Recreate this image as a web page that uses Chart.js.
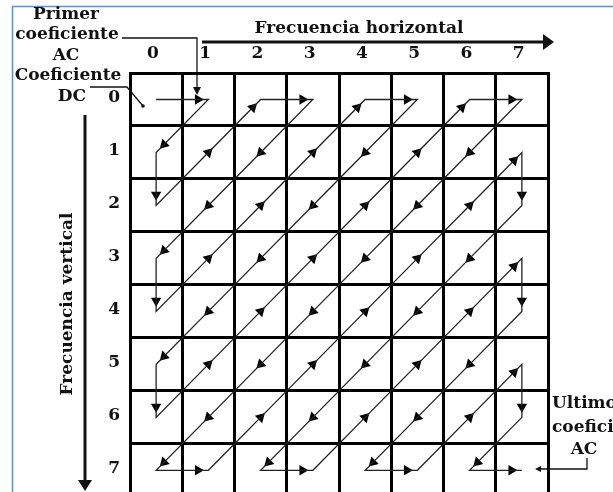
<!DOCTYPE html>
<html>
<head>
<meta charset="utf-8">
<script src="https://cdn.jsdelivr.net/npm/chart.js@4.4.1/dist/chart.umd.min.js"></script>
<style>
  html, body { margin: 0; background: #fff; overflow: hidden; height: 492px; }
  #wrap { width: 613px; height: 517px; position: relative; }
</style>
</head>
<body>
<div id="wrap"><canvas id="chart"></canvas></div>
<script>
const colLabels = ['0', '1', '2', '3', '4', '5', '6', '7'];
const rowLabels = ['0', '1', '2', '3', '4', '5', '6', '7'];
const gridLines = [0, 1, 2, 3, 4, 5, 6, 7, 8];

// zigzag scan order of the 64 coefficients (row, column)
const scanRow = [0,0,1,2,1,0,0,1,2,3,4,3,2,1,0,0,1,2,3,4,5,6,5,4,3,2,1,0,0,1,2,3,4,5,6,7,7,6,5,4,3,2,1,2,3,4,5,6,7,7,6,5,4,3,4,5,6,7,7,6,5,6,7,7];
const scanCol = [0,1,0,0,1,2,3,2,1,0,0,1,2,3,4,5,4,3,2,1,0,0,1,2,3,4,5,6,7,6,5,4,3,2,1,0,1,2,3,4,5,6,7,7,6,5,4,3,2,3,4,5,6,7,7,6,5,4,5,6,7,7,6,7];

const FONT = '"DejaVu Serif", serif';

// path through the cell centres
const pathPts = scanRow.map((r, i) => ({ x: scanCol[i] + 0.5, y: r + 0.5 }));

// one arrow head per step, pointing the way the scan moves
const headPts = [];
const headRot = [];
for (let i = 1; i < scanRow.length; i++) {
  const dx = Math.sign(scanCol[i] - scanCol[i - 1]);
  const dy = Math.sign(scanRow[i] - scanRow[i - 1]);
  let back = 0.2;
  if (i < scanRow.length - 1) {
    const nx = Math.sign(scanCol[i + 1] - scanCol[i]);
    const ny = Math.sign(scanRow[i + 1] - scanRow[i]);
    if (nx === dx && ny === dy) back = 0;
  }
  const k = (dx && dy) ? back * 0.75 : back;
  headPts.push({ x: pathPts[i].x - dx * k, y: pathPts[i].y - dy * k });
  headRot.push(Math.atan2(dx, -dy) * 180 / Math.PI);
}

function arrowHead(ctx, x, y, ang, len, half) {
  ctx.save();
  ctx.translate(x, y);
  ctx.rotate(ang);
  ctx.beginPath();
  ctx.moveTo(0, 0);
  ctx.lineTo(-len, -half);
  ctx.lineTo(-len, half);
  ctx.closePath();
  ctx.fill();
  ctx.restore();
}

function line(ctx, pts, w) {
  ctx.lineWidth = w;
  ctx.beginPath();
  ctx.moveTo(pts[0][0], pts[0][1]);
  for (let i = 1; i < pts.length; i++) ctx.lineTo(pts[i][0], pts[i][1]);
  ctx.stroke();
}

const labelsPlugin = {
  id: 'labels',
  afterDraw(chart) {
    const ctx = chart.ctx;
    ctx.save();
    // frame
    ctx.strokeStyle = '#5b8fd2';
    ctx.lineWidth = 1.5;
    ctx.beginPath();
    ctx.moveTo(12.5, 520);
    ctx.lineTo(12.5, 6.5);
    ctx.lineTo(613, 6.5);
    ctx.stroke();

    ctx.fillStyle = '#111';
    ctx.strokeStyle = '#111';
    ctx.font = 'bold 17px ' + FONT;
    ctx.textBaseline = 'middle';
    ctx.textAlign = 'center';
    ctx.fillText('Primer', 66, 15);
    ctx.fillText('coeficiente', 67, 35);
    ctx.fillText('AC', 66, 56);
    ctx.fillText('Coeficiente', 68, 76);
    ctx.fillText('DC', 72, 97);
    ctx.fillText('Frecuencia horizontal', 359, 29);
    ctx.fillText('AC', 584, 450);
    ctx.textAlign = 'left';
    ctx.fillText('Ultimo', 552, 404);
    ctx.fillText('coeficiente', 552, 428);

    // leaders
    line(ctx, [[122, 38], [197, 38], [197, 88]], 1.3);
    arrowHead(ctx, 197, 95, Math.PI / 2, 8, 4);
    line(ctx, [[90, 87], [127, 87], [143, 106]], 1.3);
    ctx.beginPath(); ctx.arc(143, 106, 1.8, 0, Math.PI * 2); ctx.fill();
    line(ctx, [[587, 458], [587, 469], [541, 469]], 1.3);
    arrowHead(ctx, 535, 469, Math.PI, 6, 3);

    // axis arrows
    line(ctx, [[202, 42], [545, 42]], 3);
    arrowHead(ctx, 554, 42, 0, 11, 8);
    line(ctx, [[85, 115], [85, 480]], 3);
    arrowHead(ctx, 85, 491, Math.PI / 2, 11, 7);

    ctx.translate(68, 304);
    ctx.rotate(-Math.PI / 2);
    ctx.textAlign = 'center';
    ctx.fillText('Frecuencia vertical', 0, 0);
    ctx.restore();
  }
};

const ctxChart = document.getElementById('chart').getContext('2d');
new Chart(ctxChart, {
  type: 'scatter',
  data: {
    datasets: [
      {
        data: pathPts,
        showLine: true,
        borderColor: '#222',
        borderWidth: 1.3,
        pointRadius: 0,
        fill: false
      },
      {
        data: headPts,
        showLine: false,
        pointStyle: 'triangle',
        pointRadius: 6,
        pointRotation: headRot,
        backgroundColor: '#000',
        borderColor: '#000',
        borderWidth: 0
      }
    ]
  },
  options: {
    responsive: true,
    maintainAspectRatio: false,
    animation: false,
    layout: { padding: { top: 0, left: 0, right: 65, bottom: 0 } },
    plugins: { legend: { display: false }, tooltip: { enabled: false } },
    scales: {
      x: {
        type: 'linear',
        position: 'top',
        min: 0,
        max: 8,
        afterBuildTicks: s => { s.ticks = gridLines.map(v => ({ value: v })); },
        afterFit: s => { s.height = 73; },
        ticks: {
          callback: v => colLabels[v] !== undefined ? colLabels[v] : '',
          labelOffset: 23,
          padding: 9,
          maxRotation: 0,
          autoSkip: false,
          color: '#111',
          font: { family: FONT, size: 17, weight: 'bold' }
        },
        grid: { color: '#000', lineWidth: 3, drawTicks: false },
        border: { color: '#000', width: 3 }
      },
      y: {
        type: 'linear',
        reverse: true,
        min: 0,
        max: 8,
        afterBuildTicks: s => { s.ticks = gridLines.map(v => ({ value: v })); },
        afterFit: s => { s.width = 130; },
        ticks: {
          callback: v => rowLabels[v] !== undefined ? rowLabels[v] : '',
          labelOffset: 25,
          padding: 10,
          autoSkip: false,
          color: '#111',
          font: { family: FONT, size: 17, weight: 'bold' }
        },
        grid: { color: '#000', lineWidth: 3, drawTicks: false },
        border: { color: '#000', width: 3 }
      }
    }
  },
  plugins: [labelsPlugin]
});
</script>
</body>
</html>
